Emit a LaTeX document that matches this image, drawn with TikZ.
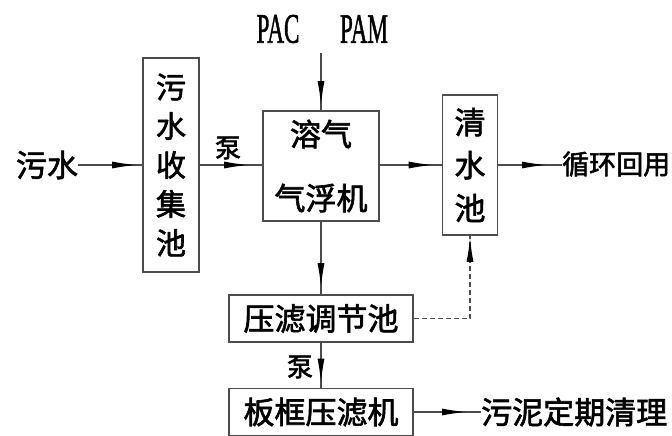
\documentclass[tikz,border=0pt]{standalone}
\usepackage{fontspec}
\newfontfamily\cjk[FakeBold=2]{Noto Sans CJK SC}
\newfontfamily\pacfont[FakeBold=1.5]{Liberation Serif}
\usetikzlibrary{arrows.meta,decorations.markings}
\tikzset{
  box/.style={draw=black!70, line width=1.6pt, inner sep=0pt, align=center,
    font=\cjk\fontsize{31}{37}\selectfont},
  plain/.style={inner sep=0pt, font=\cjk\fontsize{31}{37}\selectfont},
  smalltxt/.style={inner sep=0pt, font=\cjk\fontsize{26}{30}\selectfont},
  chem/.style={inner sep=0pt, font=\pacfont\fontsize{42}{46}\selectfont},
  conn/.style={draw=black!70, line width=1.2pt},
  tipat/.style={postaction={decorate}, decoration={markings,
    mark=at position #1 with {\arrow[black]{Latex[length=24pt,width=7pt]}}}},
}
\begin{document}
\begin{tikzpicture}[x=1pt,y=-1pt]
\useasboundingbox (0,0) rectangle (672,436);
% nodes
\node[plain] (wushui) at (47,165) {污水};
\node[box, minimum width=56pt, minimum height=214pt,
      font=\cjk\fontsize{30}{39}\selectfont] (jishui) at (171,165) {污\\水\\收\\集\\池};
\node[box, minimum width=116pt, minimum height=110pt,
      font=\cjk\fontsize{31}{64}\selectfont] (rongqi) at (321,166) {溶气\\气浮机};
\node[box, minimum width=55pt, minimum height=140pt,
      font=\cjk\fontsize{31}{43}\selectfont] (qingshui) at (470,165) {清\\水\\池};
\node[box, minimum width=184pt, minimum height=47pt] (tiaojie) at (321,318.5) {压滤调节池};
\node[box, minimum width=184pt, minimum height=47pt] (bankuang) at (321,412) {板框压滤机};
\node[plain, anchor=west, font=\cjk\fontsize{27}{32}\selectfont] (xunhuan) at (562,164) {循环回用};
\node[plain, anchor=west] (wuni) at (481,412) {污泥定期清理};
\node[chem] (pac) at (278,29) {\scalebox{0.55}[1]{PAC}};
\node[chem] (pam) at (364,29) {\scalebox{0.55}[1]{PAM}};
\node[smalltxt] (beng1) at (228,148) {泵};
\node[smalltxt] (beng2) at (300,367) {泵};
\coordinate (feed) at (321,53);
% connectors
\draw[conn, tipat=-6pt] (wushui.east) -- (jishui.west);
\draw[conn, tipat=-14pt] (jishui.east) -- (jishui.east -| rongqi.west);
\draw[conn, tipat=-9pt] (rongqi.east |- qingshui.west) -- (qingshui.west);
\draw[conn, tipat=-16pt] (qingshui.east) -- (qingshui.east -| xunhuan.west);
\draw[conn, tipat=-5pt] (feed) -- (rongqi.north);
\draw[conn, tipat=-7pt] (rongqi.south) -- (tiaojie.north);
\draw[conn, tipat=-5pt] (tiaojie.south) -- (bankuang.north);
\draw[conn, dash pattern=on 5pt off 3pt, tipat=-2pt] (tiaojie.east) -| (qingshui.south);
\draw[conn, tipat=-15pt] (bankuang.east) -- (wuni.west);
\end{tikzpicture}
\end{document}
